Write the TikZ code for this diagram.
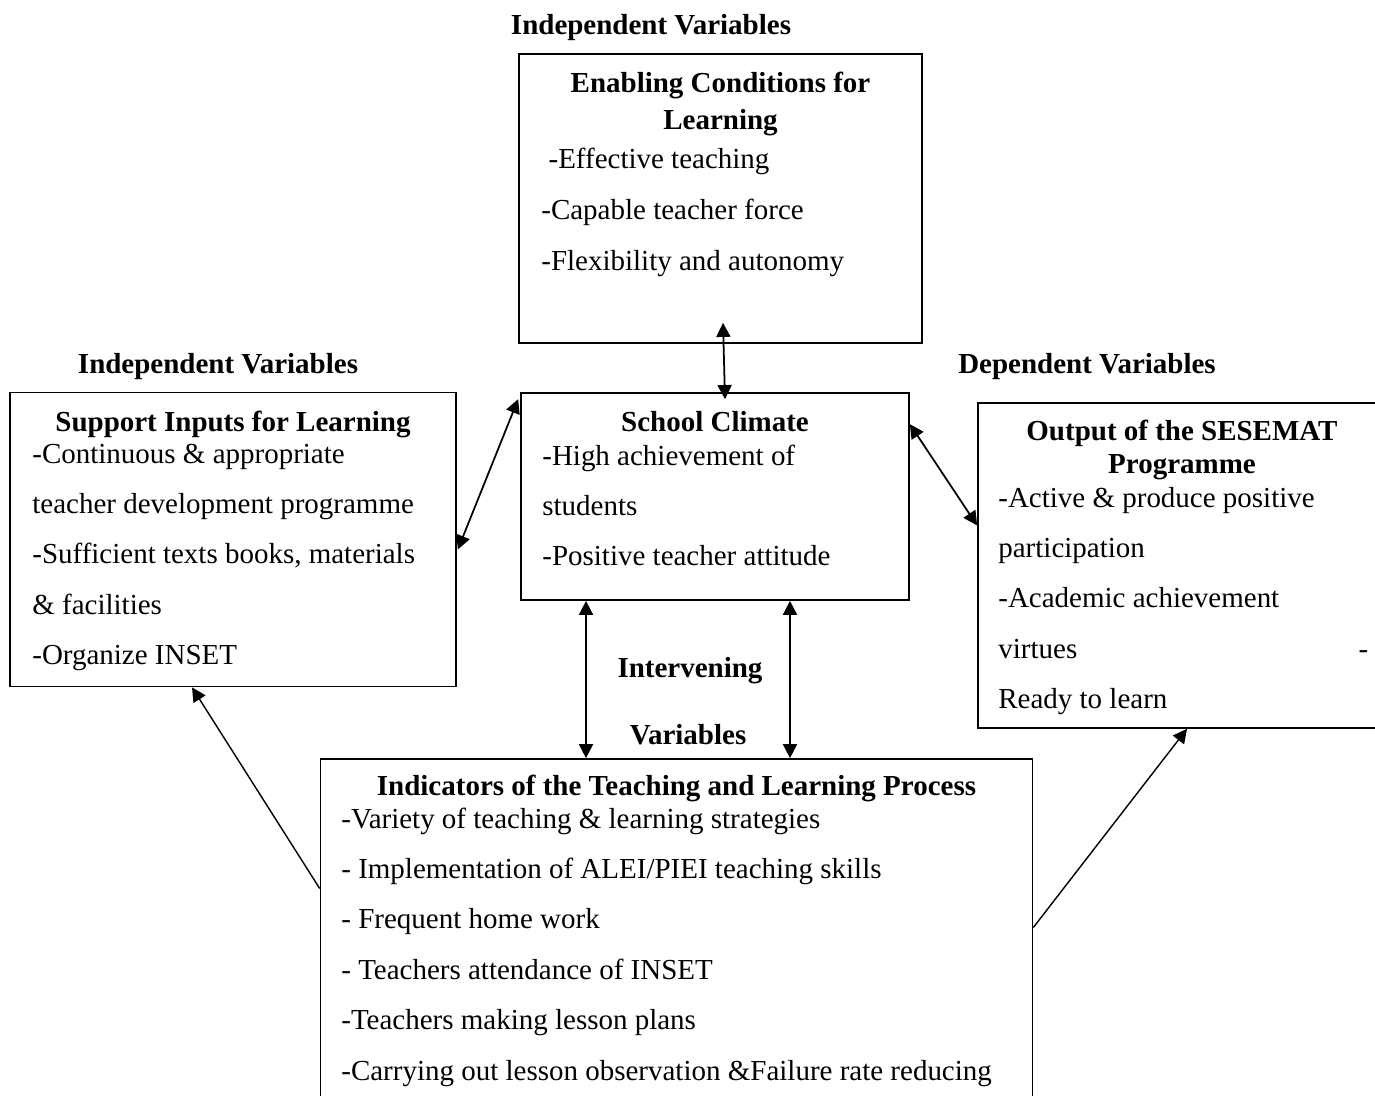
\documentclass[tikz,border=0pt]{standalone}
\usepackage{fontspec}
\setmainfont{Liberation Serif}
\usetikzlibrary{arrows.meta,calc}

\begin{document}
\begin{tikzpicture}[x=0.02cm,y=-0.02cm,
  every node/.style={inner sep=0pt,font=\fontsize{16.5}{28.7}\selectfont},
  box/.style={draw,line width=1pt},
  ttl/.style={anchor=base,align=flush center,text width=7.8cm,font=\fontsize{16.5}{21.6}\selectfont\bfseries},
  hdr/.style={anchor=base,font=\fontsize{16.5}{20}\selectfont\bfseries},
  body/.style={anchor=base west,align=flush left},
  both/.style={{Triangle[length=8pt,width=8pt]}-{Triangle[length=8pt,width=8pt]},line width=1pt},
  one/.style={-{Triangle[length=8pt,width=8pt]},line width=0.8pt}]

  \useasboundingbox (0,0) rectangle (1375,1095);

  \node[box,minimum width=8.06cm,minimum height=5.78cm] (enab) at (720.5,198.5) {};
  \node[box,minimum width=8.92cm,minimum height=5.88cm] (support) at (233,539.5) {};
  \node[box,minimum width=7.76cm,minimum height=4.14cm] (climate) at (715,496.5) {};
  \node[box,minimum width=8.16cm,minimum height=6.5cm] (output) at (1182,565.5) {};
  \node[box,minimum width=14.24cm,minimum height=7.42cm] (indic) at (676.5,944.5) {};

  \node[hdr] (hdrenab) at (651,35) {Independent Variables};
  \node[hdr] (hdrsupport) at (218,373) {Independent Variables};
  \node[hdr] (hdroutput) at (1087,373) {Dependent Variables};
  \node[hdr] (hdrinter) at (690,677) {Intervening};
  \node[hdr] (hdrvar) at (688,744) {Variables};

  \node[ttl] (enabttl) at (720.5,92) {Enabling Conditions for\\Learning};
  \node[body,text width=7.5cm,font=\fontsize{16.5}{29.3}\selectfont] (enabtxt) at (541,168)
    {\ -Effective teaching\\-Capable teacher force\\-Flexibility and autonomy};

  \node[ttl,text width=8.6cm] (supportttl) at (233,431) {Support Inputs for Learning};
  \node[body,text width=8.6cm] (supporttxt) at (32,463)
    {-Continuous \& appropriate\\teacher development programme\\-Sufficient texts books, materials\\\& facilities\\-Organize INSET};

  \node[ttl] (climatettl) at (715,431) {School Climate};
  \node[body,text width=7.3cm] (climatetxt) at (542,465)
    {-High achievement of\\students\\-Positive teacher attitude};

  \node[ttl,font=\fontsize{16.5}{18.8}\selectfont\bfseries] (outputttl) at (1182,440) {Output of the SESEMAT\\Programme};
  \node[body,text width=7.4cm] (outputtxt) at (998,507)
    {-Active \& produce positive\\participation\\-Academic achievement\\virtues\hfill-\\Ready to learn};

  \node[ttl,text width=14cm] (indicttl) at (676.5,795) {Indicators of the Teaching and Learning Process};
  \node[body,text width=13.6cm] (indictxt) at (341,828)
    {-Variety of teaching \& learning strategies\\- Implementation of ALEI/PIEI teaching skills\\- Frequent home work\\- Teachers attendance of INSET\\-Teachers making lesson plans\\-Carrying out lesson observation \&Failure rate reducing};

  \draw[both] ($(enab.south)+(2.5,-21)$) -- ($(climate.north)+(10,7)$);
  \draw[both] ($(support.east)+(1,10)$) -- ($(climate.north west)+(-2,7)$);
  \draw[both] ($(climate.north east)+(0,32)$) -- ($(output.west)+(0,-40)$);
  \draw[both] ($(climate.south)+(-129,0)$) -- ($(indic.north)+(-90.5,0)$);
  \draw[both] ($(climate.south)+(75,0)$) -- ($(indic.north)+(113.5,0)$);
  \draw[one] ($(indic.west)+(0,-56)$) -- ($(support.south)+(-41,0)$);
  \draw[one] ($(indic.east)+(0,-17)$) -- ($(output.south)+(5,0)$);
\end{tikzpicture}
\end{document}
